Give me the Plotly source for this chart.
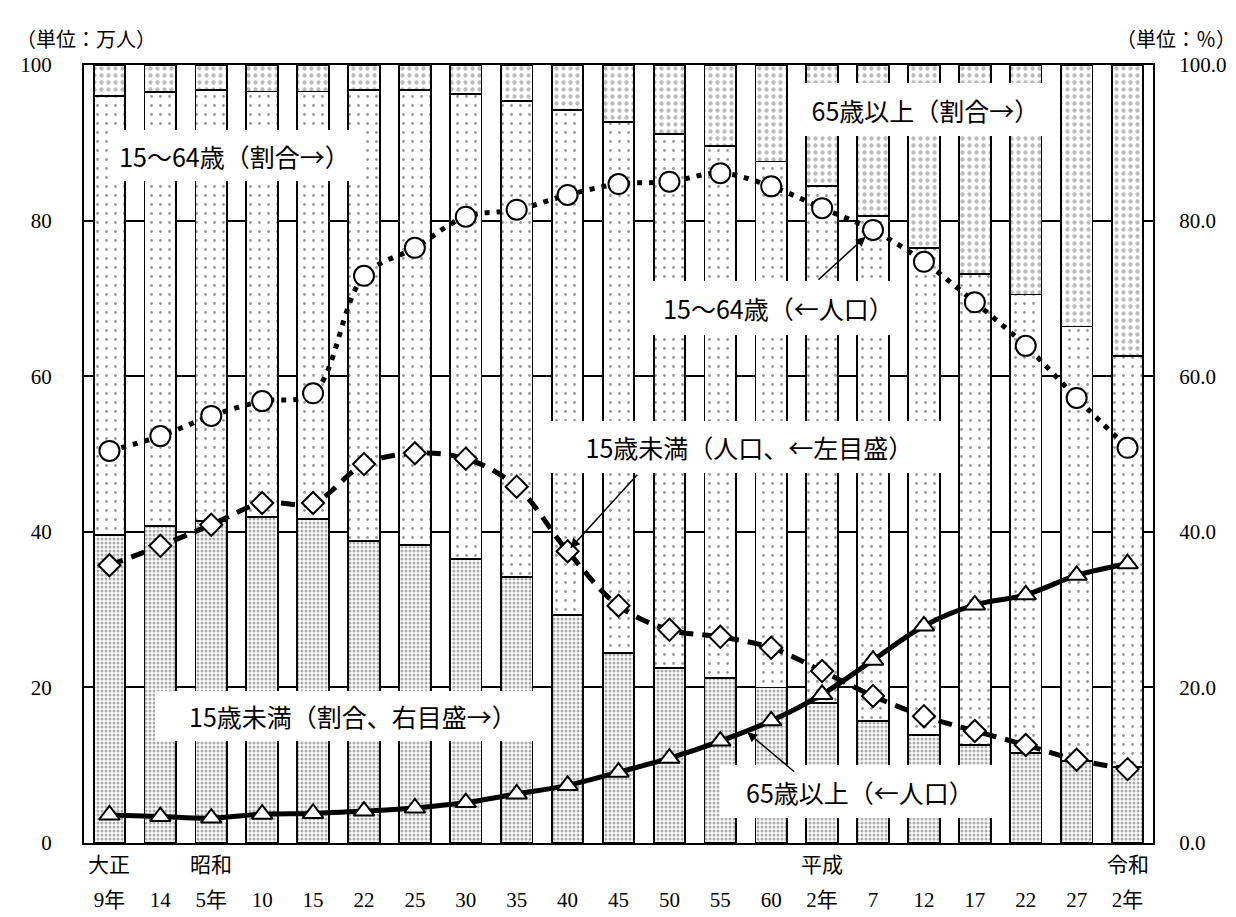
import plotly.graph_objects as go

# ---- data ----
tick_nums = ["9年", "14", "5年", "10", "15", "22", "25", "30", "35", "40", "45",
             "50", "55", "60", "2年", "7", "12", "17", "22", "27", "2年"]
era_labels = ["大正", "", "昭和", "", "", "", "", "", "", "", "",
              "", "", "", "平成", "", "", "", "", "", "令和"]

# shares (%), right axis
share_u15 = [39.6, 40.7, 41.4, 41.9, 41.6, 38.8, 38.3, 36.5, 34.2, 29.3, 24.4,
             22.5, 21.2, 20.0, 18.0, 15.7, 13.9, 12.6, 11.6, 10.5, 9.8]
share_1564 = [56.4, 55.8, 55.4, 54.7, 55.0, 58.0, 58.5, 59.8, 61.2, 64.9, 68.3,
              68.6, 68.4, 67.6, 66.4, 64.9, 62.6, 60.5, 58.9, 55.9, 52.8]
share_65 = [4.0, 3.5, 3.2, 3.4, 3.4, 3.2, 3.2, 3.7, 4.6, 5.8, 7.3,
            8.9, 10.4, 12.4, 15.6, 19.4, 23.5, 26.9, 29.5, 33.6, 37.4]

# population (万人), left axis
pop_1564 = [50.4, 52.3, 54.9, 56.8, 57.8, 72.9, 76.5, 80.5, 81.4, 83.3, 84.7,
            85.0, 86.1, 84.4, 81.6, 78.8, 74.7, 69.5, 63.9, 57.2, 50.8]
pop_u15 = [35.7, 38.2, 40.9, 43.7, 43.7, 48.7, 50.1, 49.4, 45.8, 37.5, 30.5,
           27.4, 26.5, 25.1, 22.1, 18.9, 16.3, 14.4, 12.6, 10.7, 9.5]
pop_65 = [3.6, 3.4, 3.2, 3.7, 3.8, 4.1, 4.5, 5.2, 6.3, 7.4, 9.1,
          10.9, 13.1, 15.7, 19.1, 23.5, 27.9, 30.6, 31.9, 34.4, 35.9]

xs = list(range(len(tick_nums)))

FONT = "'Liberation Serif', 'Noto Sans CJK JP', serif"
JFONT = "'Noto Sans CJK JP', sans-serif"

fig = go.Figure()

bar_line = dict(color="black", width=1.8)
fig.add_trace(go.Bar(
    x=xs, y=share_u15, width=0.62, yaxis="y",
    marker=dict(color="white", line=bar_line,
                pattern=dict(shape=".", size=4, solidity=0.45,
                             fgcolor="#555555", bgcolor="white")),
    hoverinfo="skip"))
fig.add_trace(go.Bar(
    x=xs, y=share_1564, width=0.62, yaxis="y",
    marker=dict(color="white", line=bar_line,
                pattern=dict(shape=".", size=9, solidity=0.08,
                             fgcolor="#333333", bgcolor="white")),
    hoverinfo="skip"))
fig.add_trace(go.Bar(
    x=xs, y=share_65, width=0.62, yaxis="y",
    marker=dict(color="white", line=bar_line,
                pattern=dict(shape=".", size=7, solidity=0.3,
                             fgcolor="#777777", bgcolor="white")),
    hoverinfo="skip"))

# lines (left axis)
fig.add_trace(go.Scatter(
    x=xs, y=pop_1564, yaxis="y2", mode="lines+markers",
    line=dict(color="black", width=5, dash="5px,7px", shape="spline"),
    marker=dict(symbol="circle", size=20, color="white",
                line=dict(color="black", width=2))))
fig.add_trace(go.Scatter(
    x=xs, y=pop_u15, yaxis="y2", mode="lines+markers",
    line=dict(color="black", width=5, dash="14px,9px", shape="spline"),
    marker=dict(symbol="diamond", size=17, color="white",
                line=dict(color="black", width=2))))
fig.add_trace(go.Scatter(
    x=xs, y=pop_65, yaxis="y2", mode="lines+markers",
    line=dict(color="black", width=5, shape="spline"),
    marker=dict(symbol="triangle-up", size=18, color="white",
                line=dict(color="black", width=2))))

# ---- layout geometry ----
L, R, T, B = 76, 1145, 57, 835
W, H = 1236, 917
pw, ph = R - L, B - T


def px(xp):
    return (xp - L) / pw


def py(yp):
    return (B - yp) / ph


annotations = []

# unit labels
annotations.append(dict(text="（単位：万人）", xref="paper", yref="paper",
                        x=px(6), y=py(30), xanchor="left", yanchor="middle",
                        showarrow=False, font=dict(size=20, family=JFONT)))
annotations.append(dict(text="（単位：％）", xref="paper", yref="paper",
                        x=px(1230), y=py(30), xanchor="right", yanchor="middle",
                        showarrow=False, font=dict(size=20, family=JFONT)))

# era labels
for i, e in enumerate(era_labels):
    if e:
        annotations.append(dict(text=e, xref="x", yref="paper", x=xs[i],
                                y=py(855), xanchor="center", yanchor="middle",
                                showarrow=False, font=dict(size=21, family=JFONT)))

# text boxes: (text, cx, cy, w, h)
boxes = [
    ("15〜64歳（割合→）", 226.5, 147.5, 253, 51),
    ("65歳以上（割合→）", 917.5, 101.5, 245, 53),
    ("15〜64歳（←人口）", 770.5, 300, 255, 54),
    ("15歳未満（人口、←左目盛）", 741.5, 439, 397, 52),
    ("15歳未満（割合、右目盛→）", 345, 708, 396, 50),
    ("65歳以上（←人口）", 852, 783.5, 280, 53),
]
for t, cx, cy, w, h in boxes:
    annotations.append(dict(text=t, xref="paper", yref="paper", x=px(cx), y=py(cy),
                            xanchor="center", yanchor="middle", width=w, height=h,
                            bgcolor="white", borderpad=0, borderwidth=0,
                            showarrow=False, font=dict(size=25, family=JFONT)))

# arrows: point at a series value, tail offset in pixels
arrows = [
    (15, pop_1564[15], -56, 51, 10),
    (9, pop_u15[9], 71, -78, 4),
    (12.5, (pop_65[12] + pop_65[13]) / 2, 50, 42, 2),
]
for xa, ya, ax, ay, so in arrows:
    annotations.append(dict(x=xa, y=ya, xref="x", yref="y2", ax=ax, ay=ay,
                            axref="pixel", ayref="pixel", showarrow=True,
                            arrowhead=2, arrowsize=1.3, arrowwidth=1.5,
                            arrowcolor="black", standoff=so, text=""))

fig.update_layout(
    width=W, height=H,
    margin=dict(l=L, r=W - R, t=T, b=H - B),
    paper_bgcolor="white", plot_bgcolor="white",
    font=dict(family=FONT, size=21, color="black"),
    barmode="stack", bargap=0.38, showlegend=False,
    xaxis=dict(range=[-0.5, len(xs) - 0.5], tickmode="array", tickvals=xs,
               ticktext=tick_nums, showline=True, mirror=True, linecolor="black",
               linewidth=2, showgrid=False, zeroline=False, automargin=False,
               ticks="outside", ticklen=37, tickcolor="rgba(0,0,0,0)",
               tickfont=dict(size=21)),
    yaxis=dict(range=[0, 100], side="right", dtick=20, tickformat=".1f",
               showgrid=True, gridcolor="black", gridwidth=1.5,
               showline=True, mirror=True, linecolor="black", linewidth=2,
               zeroline=False, automargin=False, ticks="outside", ticklen=20,
               tickcolor="rgba(0,0,0,0)", tickfont=dict(size=21)),
    yaxis2=dict(range=[0, 100], side="left", overlaying="y", dtick=20,
                tickformat="d", showgrid=False, zeroline=False, showline=False,
                automargin=False, ticks="outside", ticklen=27,
                tickcolor="rgba(0,0,0,0)", tickfont=dict(size=21)),
    annotations=annotations,
)

fig.write_html("out.html")
